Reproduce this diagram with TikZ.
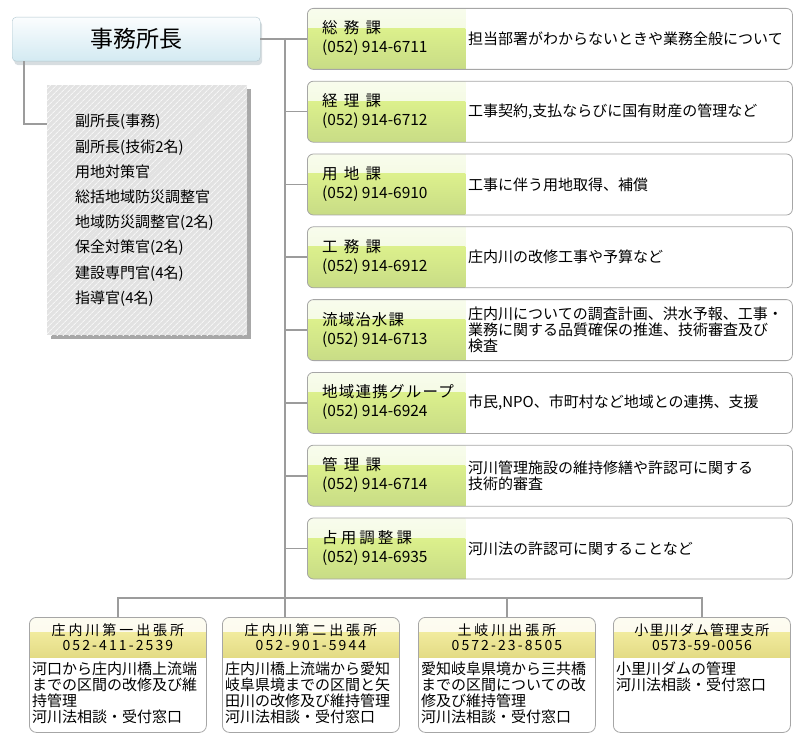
\documentclass[tikz,border=0pt]{standalone}
\usepackage{fontspec}
\setmainfont{Noto Sans CJK JP}
\usetikzlibrary{positioning,shadows,patterns.meta}

\definecolor{linegray}{HTML}{9C9C9C}
\definecolor{boxgray}{HTML}{A6A6A6}
\definecolor{greenhi}{HTML}{EEF8D2}
\definecolor{greenmid}{HTML}{DCF08C}
\definecolor{greenlo}{HTML}{C8DC86}
\definecolor{yellowhi}{HTML}{FAF7DC}
\definecolor{yellowmid}{HTML}{F1EB9E}
\definecolor{yellowlo}{HTML}{E3DB84}
\definecolor{chieftop}{HTML}{FBFDFE}
\definecolor{chiefbot}{HTML}{D3EAF2}
\definecolor{chiefrule}{HTML}{AFC6CF}
\definecolor{staffgray}{HTML}{E2E2E2}

\begin{document}
\begin{tikzpicture}[
  x=1pt, y=1pt,
  link/.style={draw=linegray, line width=1.6pt},
  chief/.style={
    draw=chiefrule,
    rounded corners=4pt,
    top color=chieftop, bottom color=chiefbot,
    minimum width=248pt, minimum height=44pt,
    anchor=north west,
    font=\fontsize{23}{23}\selectfont,
    drop shadow={shadow xshift=2pt, shadow yshift=-4pt, fill=chiefrule!80!black, opacity=0.35}
  },
  staff/.style={
    fill=staffgray,
    postaction={pattern={Lines[angle=45,distance=4pt,line width=0.9pt]}, pattern color=white!70!staffgray},
    minimum width=200pt, minimum height=250pt,
    inner xsep=28pt, text width=144pt,
    align=left, anchor=north west,
    font=\fontsize{15}{25.2}\selectfont,
    drop shadow={shadow xshift=4pt, shadow yshift=-4pt, fill=gray!75, opacity=0.9}
  },
  dept/.style={
    draw=boxgray, line width=0.8pt,
    rounded corners=6pt, fill=white,
    minimum width=485pt, minimum height=61pt, inner sep=0pt,
    path picture={
      \shade[sharp corners, top color=greenhi!40!white, bottom color=greenhi]
        (path picture bounding box.north west) rectangle ([xshift=158pt,yshift=-20pt]path picture bounding box.north west);
      \shade[sharp corners, top color=greenmid, bottom color=greenlo]
        ([yshift=-20pt]path picture bounding box.north west) rectangle ([xshift=158pt]path picture bounding box.south west);
    }
  },
  deptname/.style={anchor=west, align=left, inner sep=0pt, font=\fontsize{15.5}{19}\selectfont},
  deptinfo/.style={anchor=west, align=left, inner sep=0pt, font=\fontsize{15}{16}\selectfont},
  office/.style={
    draw=boxgray, line width=0.8pt,
    rounded corners=7pt, fill=white,
    minimum width=177pt, minimum height=115pt, inner sep=0pt,
    anchor=north west,
    path picture={
      \shade[sharp corners, top color=yellowhi!40!white, bottom color=yellowhi]
        (path picture bounding box.north west) rectangle ([yshift=-15pt]path picture bounding box.north east);
      \shade[sharp corners, top color=yellowmid, bottom color=yellowlo]
        ([yshift=-15pt]path picture bounding box.north west) rectangle ([yshift=-40pt]path picture bounding box.north east);
    }
  },
  officetitle/.style={align=center, inner sep=0pt, font=\fontsize{14}{15}\selectfont},
  officetext/.style={anchor=north west, align=left, inner sep=0pt, font=\fontsize{15}{16}\selectfont},
  node distance=11pt
]
\useasboundingbox (0,0) rectangle (800,-743);

% head of office and staff
\node[chief] (chief) at (12,-17) {事務所長};
\node[staff] (staff) at (47,-85) {副所長(事務)\\副所長(技術2名)\\用地対策官\\総括地域防災調整官\\地域防災調整官(2名)\\保全対策官(2名)\\建設専門官(4名)\\指導官(4名)};

% sections
\node[dept, anchor=north west] (soumu) at (307,-8) {};
\node[dept, below=of soumu] (keiri) {};
\node[dept, below=of keiri] (youchi) {};
\node[dept, below=of youchi] (koumu) {};
\node[dept, below=of koumu] (ryuiki) {};
\node[dept, below=of ryuiki] (renkei) {};
\node[dept, below=of renkei] (kanri) {};
\node[dept, below=of kanri] (senyou) {};

\node[deptname] (soumu-tel) at ([xshift=15pt,yshift=0.5pt]soumu.west) {{\addfontfeature{LetterSpace=40}総務課}\\(052) 914-6711};
\node[deptname] (keiri-tel) at ([xshift=15pt,yshift=0.5pt]keiri.west) {{\addfontfeature{LetterSpace=40}経理課}\\(052) 914-6712};
\node[deptname] (youchi-tel) at ([xshift=15pt,yshift=0.5pt]youchi.west) {{\addfontfeature{LetterSpace=40}用地課}\\(052) 914-6910};
\node[deptname] (koumu-tel) at ([xshift=15pt,yshift=0.5pt]koumu.west) {{\addfontfeature{LetterSpace=40}工務課}\\(052) 914-6912};
\node[deptname] (ryuiki-tel) at ([xshift=15pt,yshift=0.5pt]ryuiki.west) {{\addfontfeature{LetterSpace=7}流域治水課}\\(052) 914-6713};
\node[deptname] (renkei-tel) at ([xshift=15pt,yshift=0.5pt]renkei.west) {{\addfontfeature{LetterSpace=8}地域連携グループ}\\(052) 914-6924};
\node[deptname] (kanri-tel) at ([xshift=15pt,yshift=0.5pt]kanri.west) {{\addfontfeature{LetterSpace=40}管理課}\\(052) 914-6714};
\node[deptname] (senyou-tel) at ([xshift=15pt,yshift=0.5pt]senyou.west) {{\addfontfeature{LetterSpace=20}占用調整課}\\(052) 914-6935};

\node[deptinfo] (soumu-info) at ([xshift=161pt]soumu.west) {担当部署がわからないときや業務全般について};
\node[deptinfo] (keiri-info) at ([xshift=161pt]keiri.west) {工事契約,支払ならびに国有財産の管理など};
\node[deptinfo] (youchi-info) at ([xshift=161pt]youchi.west) {工事に伴う用地取得、補償};
\node[deptinfo] (koumu-info) at ([xshift=161pt]koumu.west) {庄内川の改修工事や予算など};
\node[deptinfo] (ryuiki-info) at ([xshift=161pt]ryuiki.west) {庄内川についての調査計画、洪水予報、工事・\\業務に関する品質確保の推進、技術審査及び\\検査};
\node[deptinfo] (renkei-info) at ([xshift=161pt]renkei.west) {市民,NPO、市町村など地域との連携、支援};
\node[deptinfo] (kanri-info) at ([xshift=161pt]kanri.west) {河川管理施設の維持修繕や許認可に関する\\技術的審査};
\node[deptinfo] (senyou-info) at ([xshift=161pt]senyou.west) {河川法の許認可に関することなど};

% field offices
\node[office] (ofs1) at (29,-617) {};
\node[office] (ofs2) at (222,-617) {};
\node[office] (ofs3) at (418,-617) {};
\node[office] (ofs4) at (613,-617) {};

\node[officetitle] (ofs1-title) at ([yshift=-20pt]ofs1.north) {{\addfontfeature{LetterSpace=21}庄内川第一出張所}\\{\addfontfeature{LetterSpace=15}052-411-2539}};
\node[officetitle] (ofs2-title) at ([yshift=-20pt]ofs2.north) {{\addfontfeature{LetterSpace=21}庄内川第二出張所}\\{\addfontfeature{LetterSpace=15}052-901-5944}};
\node[officetitle] (ofs3-title) at ([yshift=-20pt]ofs3.north) {{\addfontfeature{LetterSpace=21}土岐川出張所}\\{\addfontfeature{LetterSpace=15}0572-23-8505}};
\node[officetitle] (ofs4-title) at ([yshift=-20pt]ofs4.north) {{\addfontfeature{LetterSpace=8}小里川ダム管理支所}\\{\addfontfeature{LetterSpace=8}0573-59-0056}};

\node[officetext] (ofs1-text) at ([xshift=3pt,yshift=-45pt]ofs1.north west) {河口から庄内川橋上流端\\までの区間の改修及び維\\持管理\\河川法相談・受付窓口};
\node[officetext] (ofs2-text) at ([xshift=3pt,yshift=-45pt]ofs2.north west) {庄内川橋上流端から愛知\\岐阜県境までの区間と矢\\田川の改修及び維持管理\\河川法相談・受付窓口};
\node[officetext] (ofs3-text) at ([xshift=3pt,yshift=-45pt]ofs3.north west) {愛知岐阜県境から三共橋\\までの区間についての改\\修及び維持管理\\河川法相談・受付窓口};
\node[officetext] (ofs4-text) at ([xshift=3pt,yshift=-45pt]ofs4.north west) {小里川ダムの管理\\河川法相談・受付窓口};

% connectors
\coordinate (trunk) at (285,-38);
\coordinate (bus) at (285,-598);
\draw[link] (chief.east) -- (chief.east -| soumu.west);
\draw[link] (trunk) -- (trunk |- ofs2.north);
\draw[link] (trunk |- keiri.west) -- (keiri.west);
\draw[link] (trunk |- youchi.west) -- (youchi.west);
\draw[link] (trunk |- koumu.west) -- (koumu.west);
\draw[link] (trunk |- ryuiki.west) -- (ryuiki.west);
\draw[link] (trunk |- renkei.west) -- (renkei.west);
\draw[link] (trunk |- kanri.west) -- (kanri.west);
\draw[link] (trunk |- senyou.west) -- (senyou.west);
\draw[link] (ofs1.north) |- (bus) -| (ofs4.north);
\draw[link] (ofs3.north) -- (ofs3.north |- bus);
\draw[link] ([xshift=12pt]chief.south west) |- ([yshift=-39pt]staff.north west);

\end{tikzpicture}
\end{document}
